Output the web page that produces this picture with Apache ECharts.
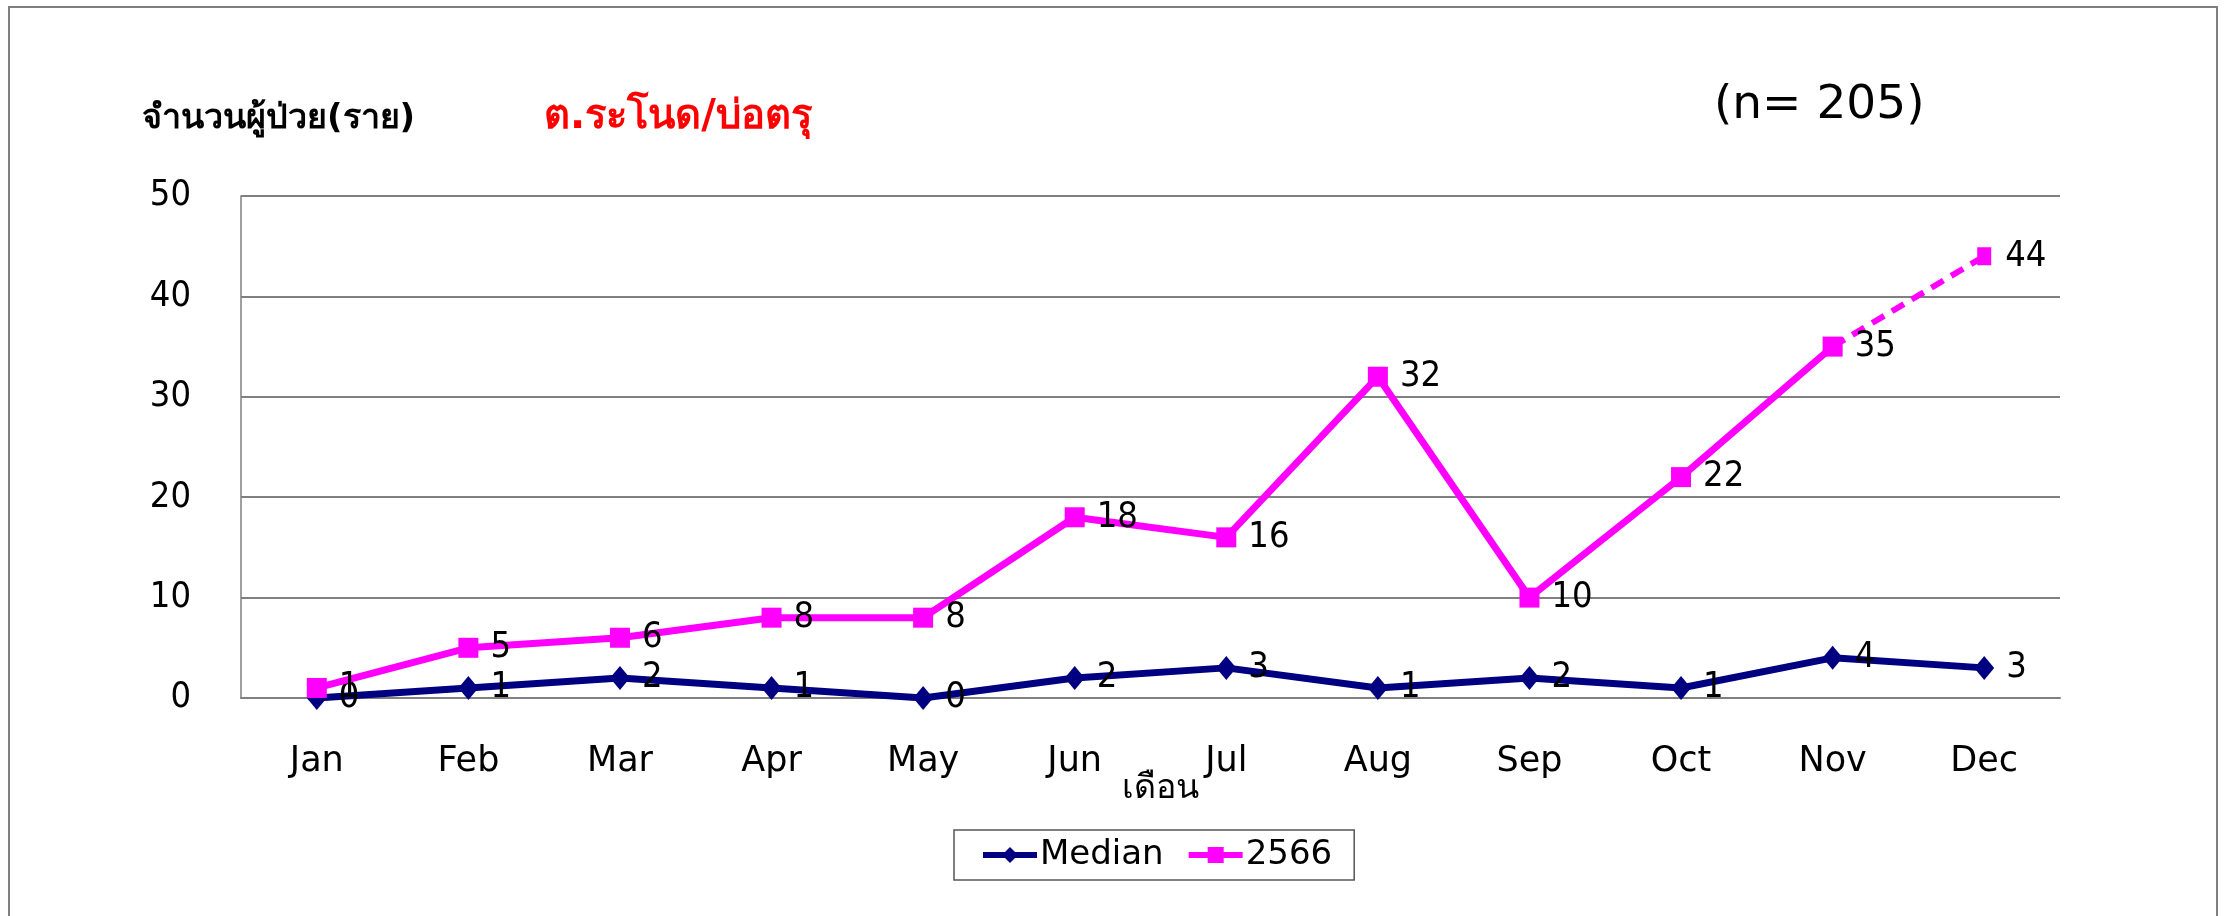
<!DOCTYPE html>
<html lang="th">
<head>
    <meta charset="utf-8">
    <title>จำนวนผู้ป่วย ต.ระโนด/บ่อตรุ</title>
    <script src="https://cdn.jsdelivr.net/npm/echarts@6/dist/echarts.min.js"></script>
    <style>
        html, body { margin: 0; padding: 0; background: #fff; }
    </style>
</head>
<body>
<div id="main" style="width: 2226px;height:916px;"></div>

<script type="text/javascript">
    var months = ['Jan', 'Feb', 'Mar', 'Apr', 'May', 'Jun', 'Jul', 'Aug', 'Sep', 'Oct', 'Nov', 'Dec'];
    var median = [0, 1, 2, 1, 0, 2, 3, 1, 2, 1, 4, 3];
    var cases2566 = [1, 5, 6, 8, 8, 18, 16, 32, 10, 22, 35, 44];
    var yTicks = [0, 10, 20, 30, 40, 50];

    // Nov -> Dec is drawn dashed (last month not complete)
    var lastIdx = cases2566.length - 1;
    var solidPart = cases2566.map(function (v, i) { return i < lastIdx ? v : null; });
    var dashedPart = cases2566.map(function (v, i) { return i >= lastIdx - 1 ? v : null; });

    var font = 'Tahoma, "DejaVu Sans", "Noto Sans", sans-serif';
    var numFont = '"Liberation Sans Narrow", "DejaVu Sans Condensed", "Noto Sans", sans-serif';

    var myChart = echarts.init(document.getElementById('main'));

    var labelStyle = {
        show: true,
        position: 'right',
        distance: 12,
        color: '#000',
        fontSize: 36,
        fontFamily: numFont
    };

    var option = {
        backgroundColor: '#fff',
        animation: false,
        graphic: [{
            type: 'rect',
            shape: { x: 9, y: 7, width: 2208, height: 920 },
            style: { fill: 'none', stroke: '#7f7f7f', lineWidth: 2 },
            silent: true
        }, {
            type: 'text',
            left: 142, top: 102,
            style: { text: 'จำนวนผู้ป่วย(ราย)', fontSize: 34, fontWeight: 'bold', fontFamily: font, fill: '#000' }
        }, {
            type: 'text',
            left: 544, top: 98,
            style: { text: 'ต.ระโนด/บ่อตรุ', fontSize: 40, fontWeight: 'bold', fontFamily: font, fill: '#ff0000' }
        }, {
            type: 'text',
            left: 1714, top: 82,
            style: { text: '(n= 205)', fontSize: 47, fontFamily: font, fill: '#000' }
        }, {
            type: 'text',
            left: 1122, top: 772,
            style: { text: 'เดือน', fontSize: 34, fontFamily: font, fill: '#000' }
        }],
        grid: {
            left: 241,
            right: 166,
            top: 196,
            bottom: 218
        },
        legend: {
            left: 954,
            top: 830,
            padding: [8, 22, 8, 26],
            borderColor: '#555',
            borderWidth: 1.5,
            itemWidth: 54,
            itemHeight: 20,
            itemGap: 22,
            lineStyle: { width: 6 },
            data: ['Median', '2566'],
            textStyle: { fontSize: 34, fontFamily: font, color: '#000', padding: [0, 0, 0, -2] }
        },
        xAxis: {
            type: 'category',
            data: months,
            boundaryGap: true,
            axisLine: { lineStyle: { color: '#808080', width: 2 } },
            axisTick: { alignWithLabel: true, length: 12, lineStyle: { color: '#808080', width: 1.5 } },
            axisLabel: { fontSize: 35, fontFamily: font, color: '#000', margin: 46 }
        },
        yAxis: {
            type: 'value',
            min: yTicks[0],
            max: yTicks[yTicks.length - 1],
            interval: 10,
            axisLine: { show: true, lineStyle: { color: '#808080', width: 1.5 } },
            axisTick: { show: false },
            splitLine: { lineStyle: { color: '#808080', width: 2 } },
            axisLabel: { fontSize: 36, fontFamily: numFont, color: '#000', margin: 50 }
        },
        series: [{
            name: 'Median',
            type: 'line',
            data: median,
            symbol: 'diamond',
            symbolSize: [20, 24],
            color: '#000080',
            lineStyle: { width: 7, color: '#000080' },
            itemStyle: { color: '#000080' },
            label: labelStyle,
            z: 3
        }, {
            name: '2566',
            type: 'line',
            data: solidPart,
            symbol: 'rect',
            symbolSize: 20,
            color: '#ff00ff',
            lineStyle: { width: 7, color: '#ff00ff' },
            itemStyle: { color: '#ff00ff' },
            label: labelStyle,
            z: 4
        }, {
            name: '2566 (dashed)',
            type: 'line',
            data: dashedPart,
            symbol: 'rect',
            symbolSize: [14, 18],
            showSymbol: true,
            lineStyle: { width: 6, color: '#ff00ff', type: [14, 9] },
            itemStyle: { color: '#ff00ff' },
            label: {
                show: true,
                position: 'right',
                distance: 14,
                color: '#000',
                fontSize: 36,
                fontFamily: numFont,
                formatter: function (p) { return p.dataIndex === lastIdx ? p.value : ''; }
            },
            z: 4
        }]
    };

    option && myChart.setOption(option);
</script>
</body>
</html>
